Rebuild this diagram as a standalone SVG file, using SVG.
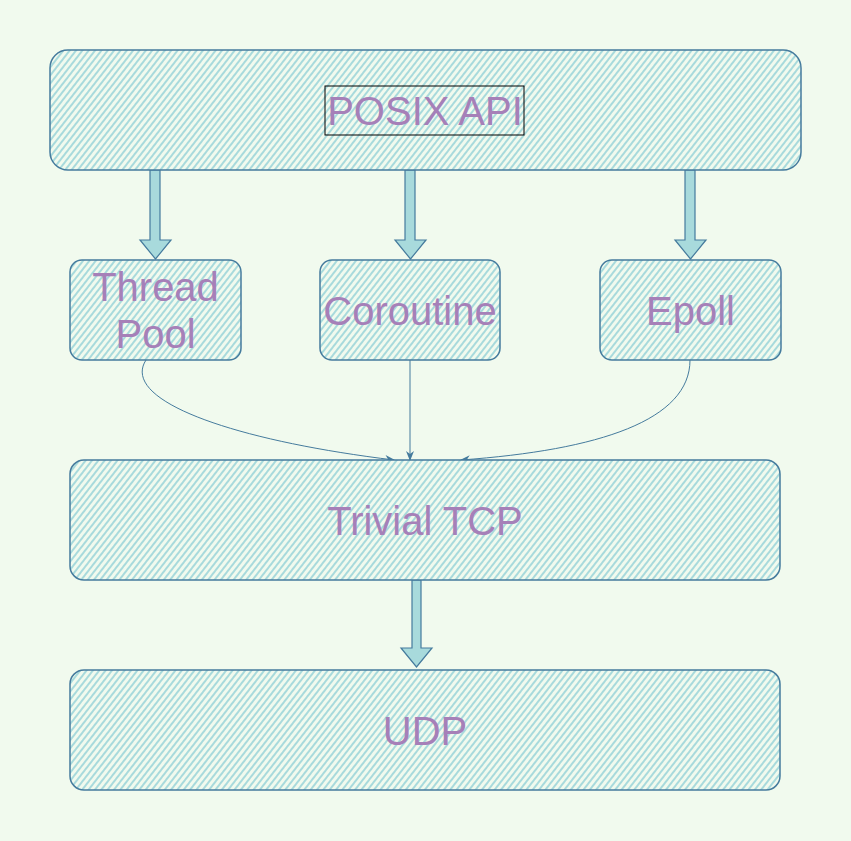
<svg xmlns="http://www.w3.org/2000/svg" width="851" height="841" viewBox="0 0 851 841">
<defs>
<pattern id="hatch" width="5" height="5" patternUnits="userSpaceOnUse" patternTransform="rotate(38)">
<rect width="5" height="5" fill="#f1faee"/>
<rect x="0" y="0" width="2" height="5" fill="#a8dadc"/>
</pattern>
<marker id="ah" viewBox="0 0 10 10" refX="9" refY="5" markerWidth="10" markerHeight="10" orient="auto" markerUnits="userSpaceOnUse">
<path d="M0,1 L10,5 L0,9 L3,5 Z" fill="#457b9d"/>
</marker>
<style>
.box{fill:url(#hatch);stroke:#457b9d;stroke-width:1.5}
.lbl{font-family:"Liberation Sans",Arial,sans-serif;font-size:40px;fill:#a680b8;text-anchor:middle}
.blk{fill:#a8dadc;stroke:#457b9d;stroke-width:1.2}
.con{fill:none;stroke:#457b9d;stroke-width:1}
</style>
</defs>
<rect width="851" height="841" fill="#f1faee"/>
<g id="connectors">
<path class="blk" d="M150,170 H160 V240 H171 L155.5,259 L140,240 H150 Z"/>
<path class="blk" d="M405,170 H415 V240 H426 L410.5,259 L395,240 H405 Z"/>
<path class="blk" d="M685,170 H695 V240 H706 L690.5,259 L675,240 H685 Z"/>
<path class="blk" d="M412,580 H421 V648 H432 L416.5,667 L401,648 H412 Z"/>
<path class="con" marker-end="url(#ah)" d="M146,360 C120,400 230,440 394,460"/>
<path class="con" marker-end="url(#ah)" d="M410,360 V460"/>
<path class="con" marker-end="url(#ah)" d="M690,360 C690,420 600,450 461,460"/>
</g>
<g id="posix">
<rect class="box" x="50" y="50" width="751" height="120" rx="18"/>
<rect x="325" y="86" width="199" height="49" fill="none" stroke="#000" stroke-width="1"/>
<text class="lbl" x="425" y="125">POSIX API</text>
</g>
<g id="threadpool">
<rect class="box" x="70" y="260" width="171" height="100" rx="12"/>
<text class="lbl" x="155.5" y="301">Thread</text>
<text class="lbl" x="155.5" y="348">Pool</text>
</g>
<g id="coroutine">
<rect class="box" x="320" y="260" width="180" height="100" rx="12"/>
<text class="lbl" x="410" y="325">Coroutine</text>
</g>
<g id="epoll">
<rect class="box" x="600" y="260" width="181" height="100" rx="12"/>
<text class="lbl" x="690.5" y="325">Epoll</text>
</g>
<g id="tcp">
<rect class="box" x="70" y="460" width="710" height="120" rx="14"/>
<text class="lbl" x="425" y="535">Trivial TCP</text>
</g>
<g id="udp">
<rect class="box" x="70" y="670" width="710" height="120" rx="14"/>
<text class="lbl" x="425" y="745">UDP</text>
</g>
</svg>
